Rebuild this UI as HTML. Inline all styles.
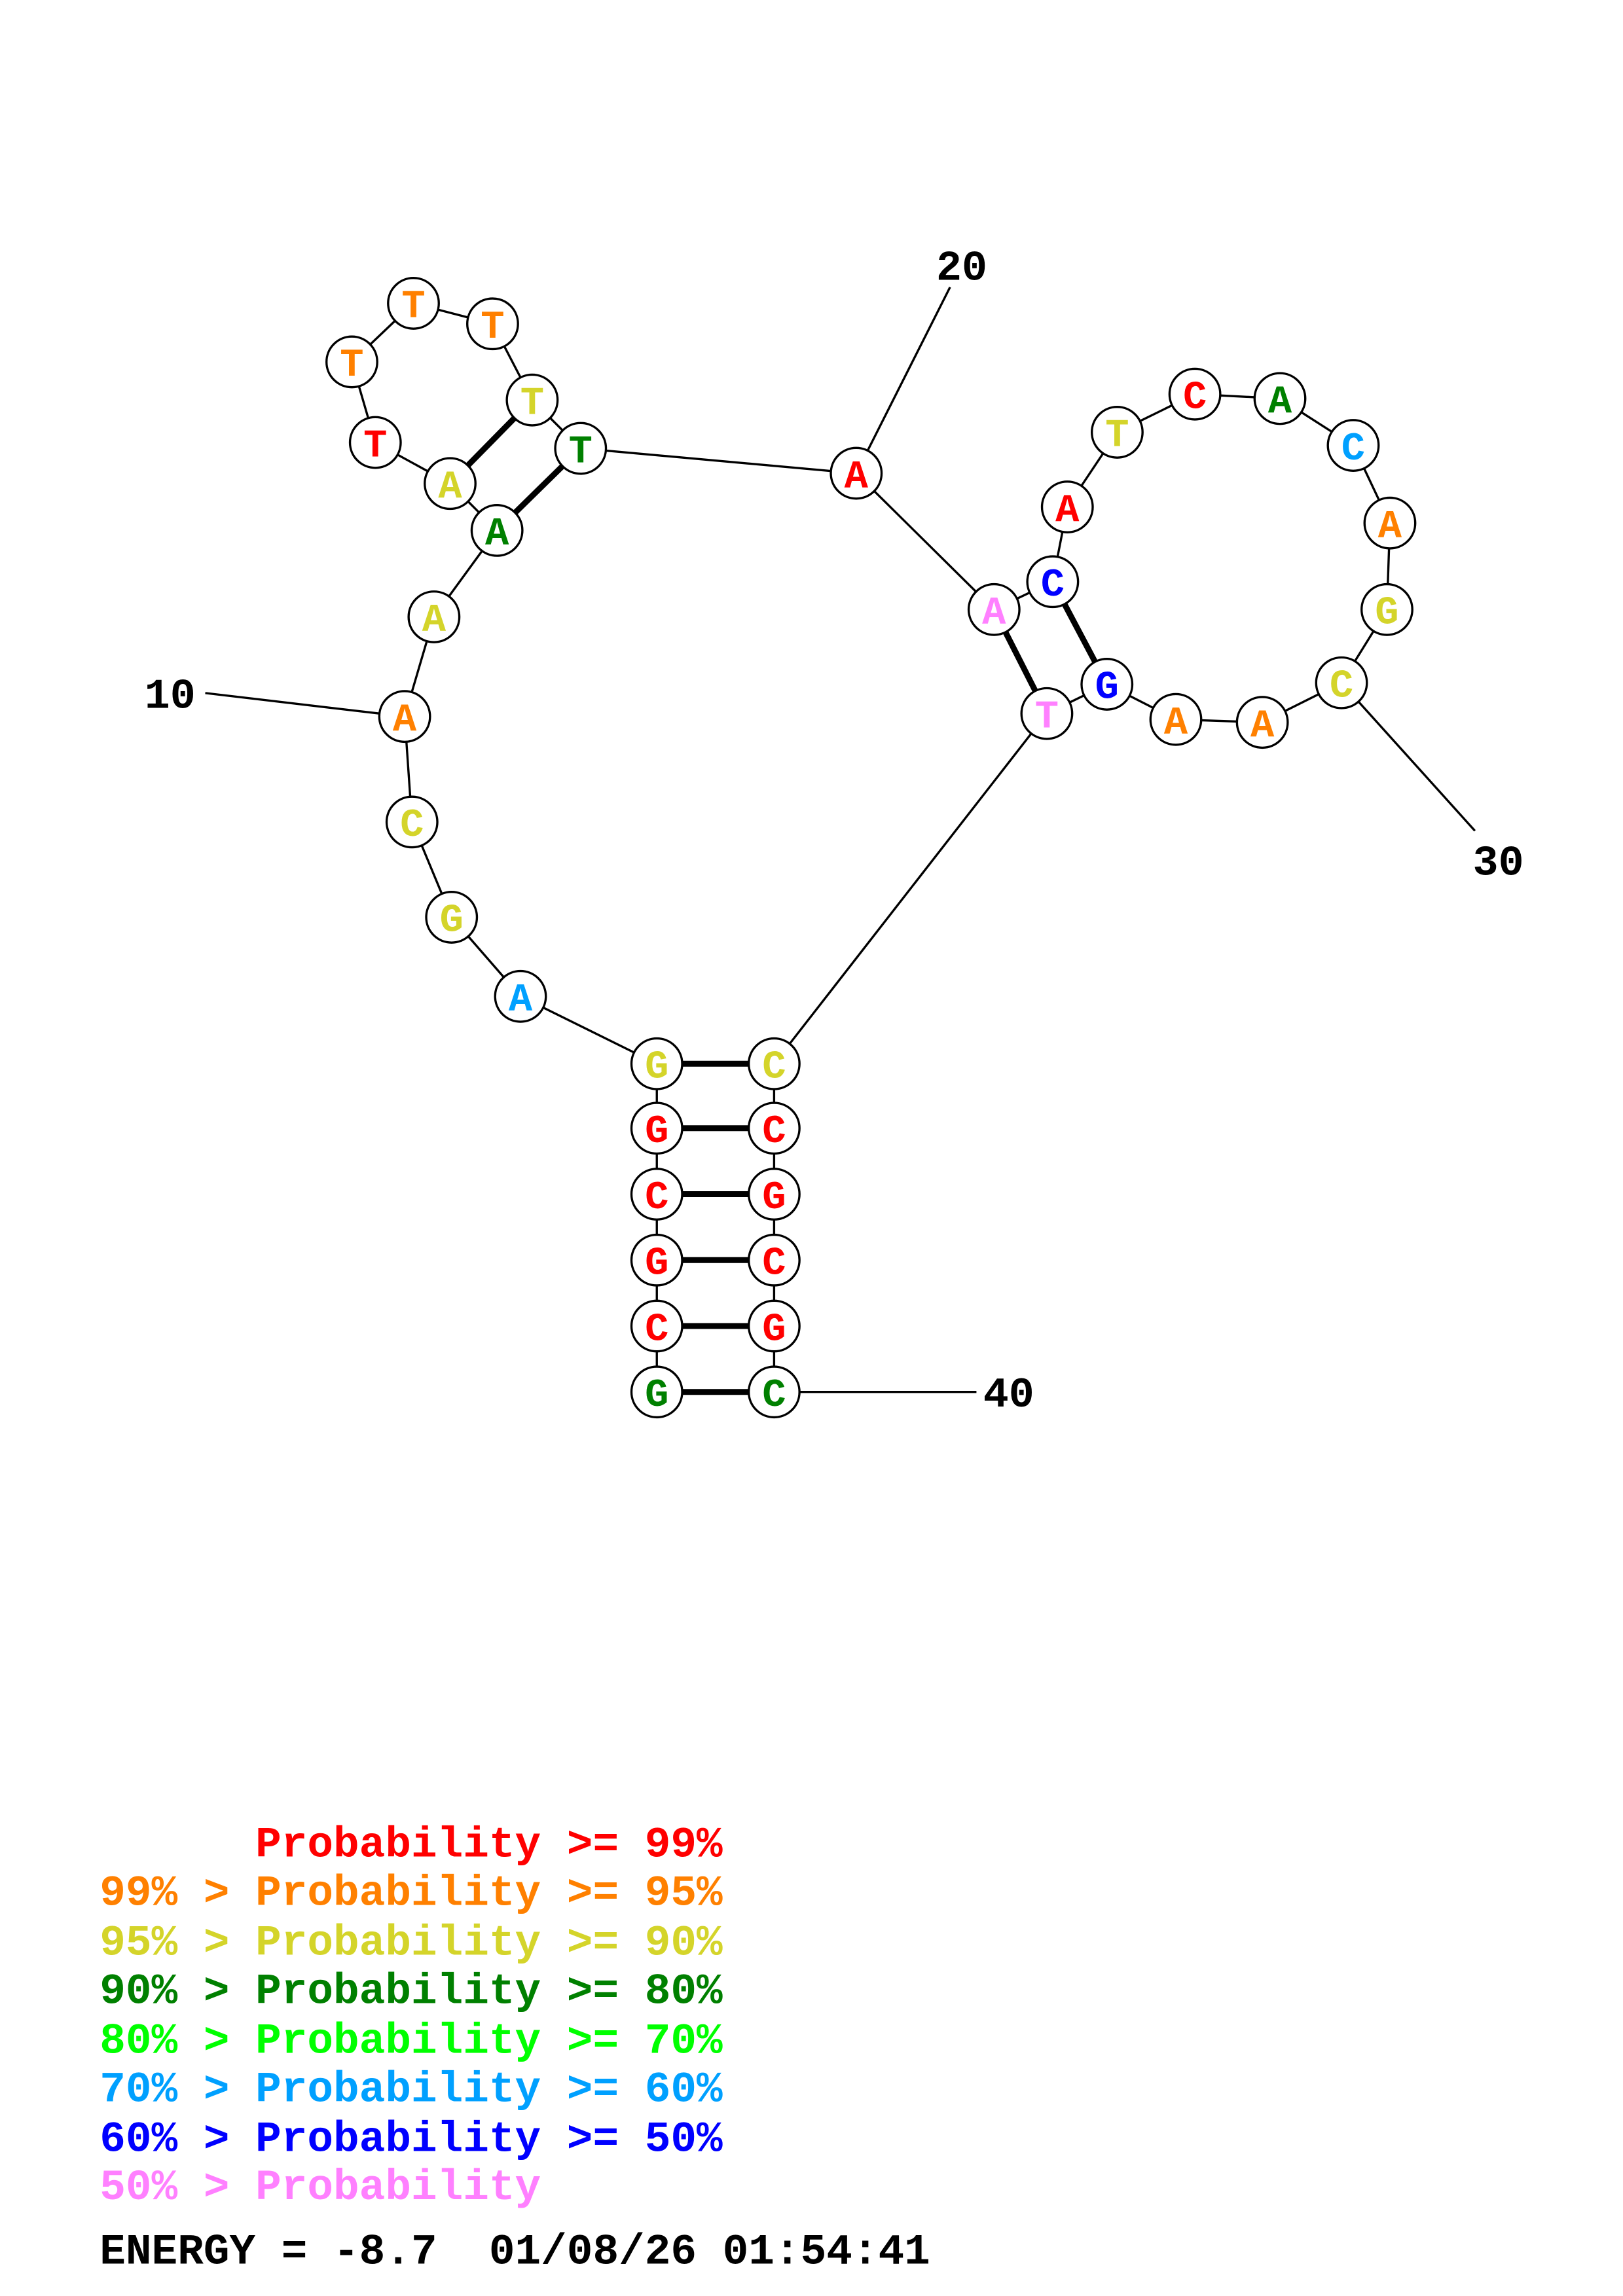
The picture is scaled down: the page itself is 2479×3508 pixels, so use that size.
<!DOCTYPE html>
<html><head><meta charset="utf-8"><style>
html,body{margin:0;padding:0;background:#fff}
svg{display:block}
text{font-family:"Liberation Mono",monospace;font-weight:bold;white-space:pre}
</style></head><body>
<svg width="2479" height="3508" viewBox="0 0 1107 1567" preserveAspectRatio="none" xmlns="http://www.w3.org/2000/svg">
<g stroke="#000" stroke-width="1.5" fill="none">
<polyline points="448,950 448,905 448,860 448,815 448,770 448,726 355,680 308,626 281,561 276,489 296,421 339,362 307,330 256,302 240,247 282,207 336,221 363,273 396,306 584,323 678,416 718,397 728,346 762,295 815,269 873,272 923,304 948,357 946,416 915,466 861,493 802,491 755,467 714,487 528,726 528,770 528,815 528,860 528,905 528,950"/>
<line x1="140" y1="473" x2="276" y2="489"/>
<line x1="648" y1="196" x2="584" y2="323"/>
<line x1="1006" y1="567" x2="915" y2="466"/>
<line x1="528" y1="950" x2="666" y2="950"/>
</g>
<g stroke="#000" stroke-width="4">
<line x1="448" y1="950" x2="528" y2="950"/>
<line x1="448" y1="905" x2="528" y2="905"/>
<line x1="448" y1="860" x2="528" y2="860"/>
<line x1="448" y1="815" x2="528" y2="815"/>
<line x1="448" y1="770" x2="528" y2="770"/>
<line x1="448" y1="726" x2="528" y2="726"/>
<line x1="339" y1="362" x2="396" y2="306"/>
<line x1="307" y1="330" x2="363" y2="273"/>
<line x1="678" y1="416" x2="714" y2="487"/>
<line x1="718" y1="397" x2="755" y2="467"/>
</g>
<g font-size="27" text-anchor="middle">
<g fill="#fff" stroke="#000" stroke-width="1.5">
<circle cx="448" cy="950" r="17.3"/><circle cx="448" cy="905" r="17.3"/><circle cx="448" cy="860" r="17.3"/><circle cx="448" cy="815" r="17.3"/><circle cx="448" cy="770" r="17.3"/><circle cx="448" cy="726" r="17.3"/>
<circle cx="355" cy="680" r="17.3"/><circle cx="308" cy="626" r="17.3"/><circle cx="281" cy="561" r="17.3"/><circle cx="276" cy="489" r="17.3"/><circle cx="296" cy="421" r="17.3"/><circle cx="339" cy="362" r="17.3"/><circle cx="307" cy="330" r="17.3"/><circle cx="256" cy="302" r="17.3"/><circle cx="240" cy="247" r="17.3"/><circle cx="282" cy="207" r="17.3"/><circle cx="336" cy="221" r="17.3"/><circle cx="363" cy="273" r="17.3"/><circle cx="396" cy="306" r="17.3"/><circle cx="584" cy="323" r="17.3"/><circle cx="678" cy="416" r="17.3"/><circle cx="718" cy="397" r="17.3"/><circle cx="728" cy="346" r="17.3"/><circle cx="762" cy="295" r="17.3"/><circle cx="815" cy="269" r="17.3"/><circle cx="873" cy="272" r="17.3"/><circle cx="923" cy="304" r="17.3"/><circle cx="948" cy="357" r="17.3"/><circle cx="946" cy="416" r="17.3"/><circle cx="915" cy="466" r="17.3"/><circle cx="861" cy="493" r="17.3"/><circle cx="802" cy="491" r="17.3"/><circle cx="755" cy="467" r="17.3"/><circle cx="714" cy="487" r="17.3"/>
<circle cx="528" cy="726" r="17.3"/><circle cx="528" cy="770" r="17.3"/><circle cx="528" cy="815" r="17.3"/><circle cx="528" cy="860" r="17.3"/><circle cx="528" cy="905" r="17.3"/><circle cx="528" cy="950" r="17.3"/>
</g>
<g transform="translate(0,9.5)">
<text x="448" y="950" fill="#008000">G</text>
<text x="448" y="905" fill="#ff0000">C</text>
<text x="448" y="860" fill="#ff0000">G</text>
<text x="448" y="815" fill="#ff0000">C</text>
<text x="448" y="770" fill="#ff0000">G</text>
<text x="448" y="726" fill="#d4d42a">G</text>
<text x="355" y="680" fill="#00a0ff">A</text>
<text x="308" y="626" fill="#d4d42a">G</text>
<text x="281" y="561" fill="#d4d42a">C</text>
<text x="276" y="489" fill="#ff8000">A</text>
<text x="296" y="421" fill="#d4d42a">A</text>
<text x="339" y="362" fill="#008000">A</text>
<text x="307" y="330" fill="#d4d42a">A</text>
<text x="256" y="302" fill="#ff0000">T</text>
<text x="240" y="247" fill="#ff8000">T</text>
<text x="282" y="207" fill="#ff8000">T</text>
<text x="336" y="221" fill="#ff8000">T</text>
<text x="363" y="273" fill="#d4d42a">T</text>
<text x="396" y="306" fill="#008000">T</text>
<text x="584" y="323" fill="#ff0000">A</text>
<text x="678" y="416" fill="#ff80ff">A</text>
<text x="718" y="397" fill="#0000ff">C</text>
<text x="728" y="346" fill="#ff0000">A</text>
<text x="762" y="295" fill="#d4d42a">T</text>
<text x="815" y="269" fill="#ff0000">C</text>
<text x="873" y="272" fill="#008000">A</text>
<text x="923" y="304" fill="#00a0ff">C</text>
<text x="948" y="357" fill="#ff8000">A</text>
<text x="946" y="416" fill="#d4d42a">G</text>
<text x="915" y="466" fill="#d4d42a">C</text>
<text x="861" y="493" fill="#ff8000">A</text>
<text x="802" y="491" fill="#ff8000">A</text>
<text x="755" y="467" fill="#0000ff">G</text>
<text x="714" y="487" fill="#ff80ff">T</text>
<text x="528" y="726" fill="#d4d42a">C</text>
<text x="528" y="770" fill="#ff0000">C</text>
<text x="528" y="815" fill="#ff0000">G</text>
<text x="528" y="860" fill="#ff0000">C</text>
<text x="528" y="905" fill="#ff0000">G</text>
<text x="528" y="950" fill="#008000">C</text>
</g>
</g>
<g font-size="29" fill="#000" text-anchor="middle">
<text x="116" y="483">10</text>
<text x="656" y="191">20</text>
<text x="1022" y="597">30</text>
<text x="688" y="960">40</text>
</g>
<g font-size="29.5">
<text x="68" y="1267" fill="#ff0000">      Probability &gt;= 99%</text>
<text x="68" y="1300" fill="#ff8000">99% &gt; Probability &gt;= 95%</text>
<text x="68" y="1334" fill="#d4d42a">95% &gt; Probability &gt;= 90%</text>
<text x="68" y="1367" fill="#008000">90% &gt; Probability &gt;= 80%</text>
<text x="68" y="1401" fill="#00ff00">80% &gt; Probability &gt;= 70%</text>
<text x="68" y="1434" fill="#00a0ff">70% &gt; Probability &gt;= 60%</text>
<text x="68" y="1468" fill="#0000ff">60% &gt; Probability &gt;= 50%</text>
<text x="68" y="1501" fill="#ff80ff">50% &gt; Probability</text>
<text x="68" y="1545" fill="#000">ENERGY = -8.7  01/08/26 01:54:41</text>
</g>
</svg>
</body></html>
